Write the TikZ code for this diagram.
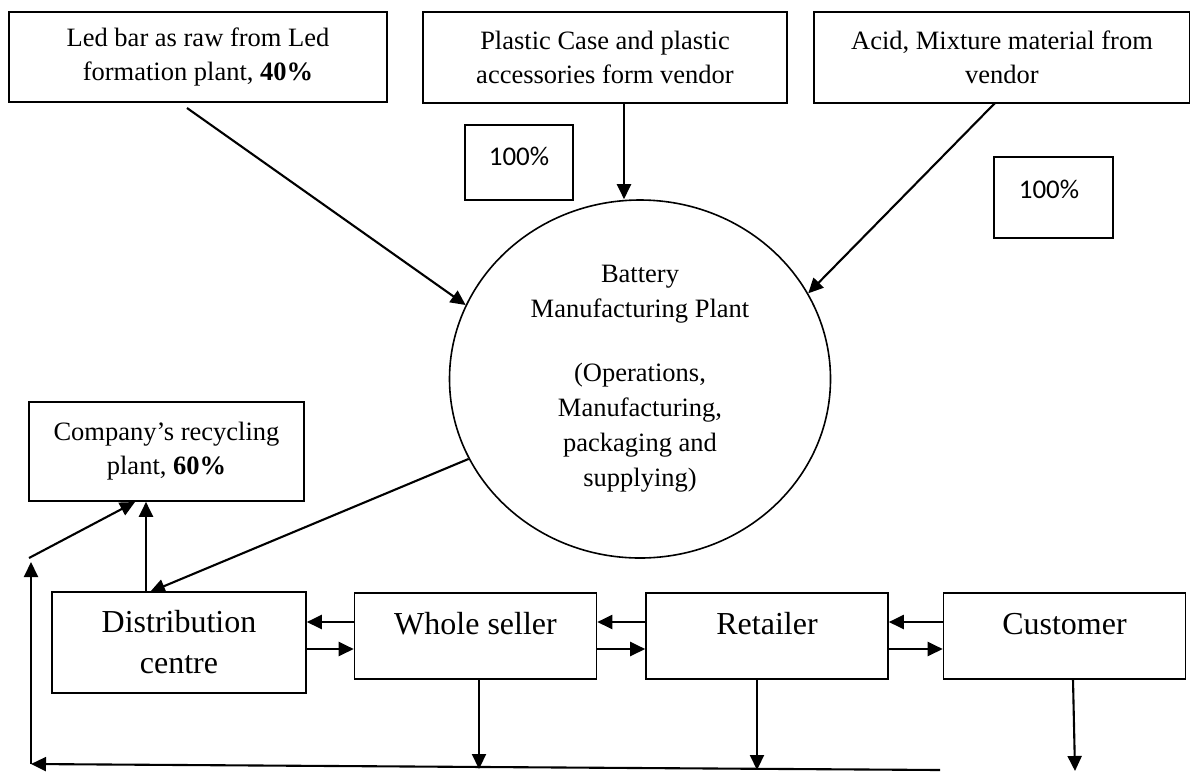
\documentclass[tikz,border=0pt]{standalone}
\usepackage{fontspec}
\setmainfont{Liberation Serif}
\newfontfamily\calibfont{Carlito}
\usetikzlibrary{shapes.geometric,arrows.meta}
\begin{document}
\begin{tikzpicture}[x=1pt,y=-1pt,
  box/.style={draw,line width=1.6pt,rectangle,inner sep=0pt},
  srcbox/.style={box,align=center,font=\fontsize{26.5}{34}\selectfont},
  chainbox/.style={box,minimum width=242pt,minimum height=86pt},
  chaintext/.style={font=\fontsize{32}{40}\selectfont,inner sep=0pt},
  pctbox/.style={box},
  pcttext/.style={font=\calibfont\fontsize{27}{32}\selectfont,inner sep=0pt},
  arr/.style={line width=2.1pt,-{Triangle[length=15pt,width=14pt]}}]
\useasboundingbox (0,0) rectangle (1190,772);

% suppliers
\node[srcbox,minimum width=378pt,minimum height=90pt] (lead) at (198,57)
  {Led bar as raw from Led\\formation plant, \textbf{40\%}};
\node[srcbox,minimum width=364pt,minimum height=91pt] (plastic) at (605,57.5)
  {Plastic Case and plastic\\accessories form vendor};
\node[srcbox,minimum width=376pt,minimum height=91pt] (acid) at (1002,57.5)
  {Acid, Mixture material from\\vendor};

% share boxes
\node[pctbox,minimum width=108pt,minimum height=75pt] (pctA) at (519,162.5) {};
\node[pcttext] (pctAt) at (519,156) {100\%};
\node[pctbox,minimum width=119pt,minimum height=81pt] (pctB) at (1053.5,197.5) {};
\node[pcttext] (pctBt) at (1049,189) {100\%};

% plant
\node[draw,ellipse,line width=1.6pt,minimum width=381pt,minimum height=358pt,
      inner sep=0pt,align=center,font=\fontsize{26.5}{35}\selectfont] (plant) at (640,379)
  {Battery\\Manufacturing Plant\\[29pt](Operations,\\Manufacturing,\\packaging and\\supplying)};

% recycling and distribution chain
\node[srcbox,minimum width=275pt,minimum height=99pt] (recyc) at (166.5,451.5)
  {Company’s recycling\\plant, \textbf{60\%}};
\node[box,minimum width=254pt,minimum height=101pt,align=center,
      font=\fontsize{32}{41}\selectfont] (dist) at (179,642.5) {Distribution\\centre};
\node[chainbox] (whole) at (475.5,636) {};
\node[chaintext] (wholet) at (475.5,624) {Whole seller};
\node[chainbox] (retail) at (767,636) {};
\node[chaintext] (retailt) at (767,624) {Retailer};
\node[chainbox] (cust) at (1064.5,636) {};
\node[chaintext] (custt) at (1064.5,624) {Customer};

% helper coordinates
\coordinate (rowA) at (0,622);
\coordinate (rowB) at (0,649);
\coordinate (colP) at (624,0);
\coordinate (colD) at (146,0);
\coordinate (leadOut) at (187,108);
\coordinate (acidOut) at (995,103);
\coordinate (distIn) at (150,592);
\coordinate (recIn) at (135,502);
\coordinate (wholeEnd) at (479,769);
\coordinate (retailEnd) at (757,770);
\coordinate (custEnd) at (1075,771);
\coordinate (lineR) at (940,770);
\coordinate (cornerBL) at (31,764);
\coordinate (upTip) at (31,562);
\coordinate (kink) at (29,558);

% inbound material flows
\draw[arr] (leadOut) -- (plant.157);
\draw[arr] (colP |- plastic.south) -- (colP |- plant.north);
\draw[arr] (acidOut) -- (plant.27.5);

% outbound flows
\draw[arr] (plant.205.6) -- (distIn);
\draw[arr] (colD |- dist.north) -- (colD |- recyc.south);

% chain links
\draw[arr] (whole.west |- rowA) -- (dist.east |- rowA);
\draw[arr] (dist.east |- rowB) -- (whole.west |- rowB);
\draw[arr] (retail.west |- rowA) -- (whole.east |- rowA);
\draw[arr] (whole.east |- rowB) -- (retail.west |- rowB);
\draw[arr] (cust.west |- rowA) -- (retail.east |- rowA);
\draw[arr] (retail.east |- rowB) -- (cust.west |- rowB);

% returns
\draw[arr] (wholeEnd |- whole.south) -- (wholeEnd);
\draw[arr] (retailEnd |- retail.south) -- (retailEnd);
\draw[arr] ([xshift=8.5pt]cust.south) -- (custEnd);
\draw[arr] (lineR) -- (cornerBL);
\draw[arr] (cornerBL) -- (upTip);
\draw[arr] (kink) -- (recIn);
\end{tikzpicture}
\end{document}
